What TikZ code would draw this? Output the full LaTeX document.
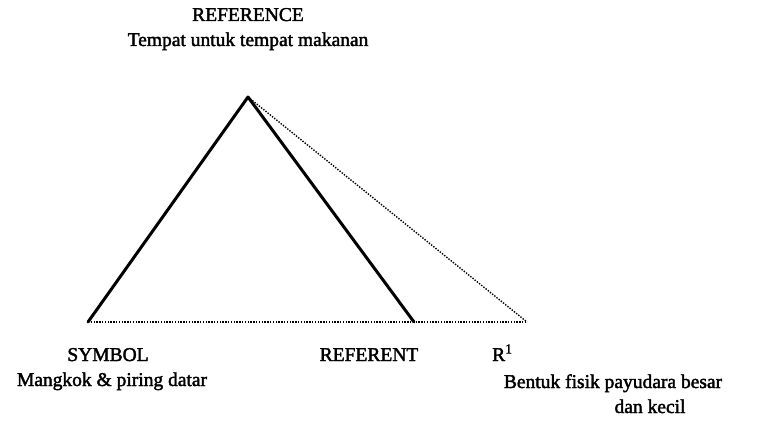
\documentclass[tikz,border=0pt]{standalone}
\usepackage{fontspec}
\setmainfont{Liberation Serif}
\newfontfamily\scanfont{Liberation Serif}[FakeBold=2]
\begin{document}
\begin{tikzpicture}[x=1pt, y=-1pt,
    lbl/.style={font=\scanfont\fontsize{19.5}{19.5}\selectfont, inner sep=0pt, anchor=base},
    arm/.style={line width=3pt, line cap=round, line join=round},
    dotline/.style={line width=1.4pt, dash pattern=on 1.4pt off 1.4pt}]
    \useasboundingbox (0,0) rectangle (759,443);

    % 1. VERTEXS DEL TRIANGLE
    \coordinate (apex) at (248,97);
    \coordinate (symbol) at (88,322);
    \coordinate (referent) at (414,322);
    \coordinate (rone) at (527,322);

    % 2. COSTATS
    \draw[dotline] (symbol) -- (rone);
    \draw[dotline] (apex) -- (rone);
    \draw[arm] (symbol) -- (apex) -- (referent);

    % 3. ETIQUETES
    \node[lbl] (reftitle) at (248,21) {REFERENCE};
    \node[lbl] (refdesc) at (248,46) {Tempat untuk tempat makanan};

    \node[lbl] (symtitle) at (108,361) {SYMBOL};
    \node[lbl] (symdesc) at (112,386) {Mangkok \& piring datar};

    \node[lbl] (rfttitle) at (369,361) {REFERENT};

    \node[lbl, anchor=base west] (ronetitle) at (492,361) {R\textsuperscript{1}};
    \node[lbl] (ronedesc) at (613,388) {Bentuk fisik payudara besar};
    \node[lbl] (ronedesc2) at (650,413) {dan kecil};
\end{tikzpicture}
\end{document}
